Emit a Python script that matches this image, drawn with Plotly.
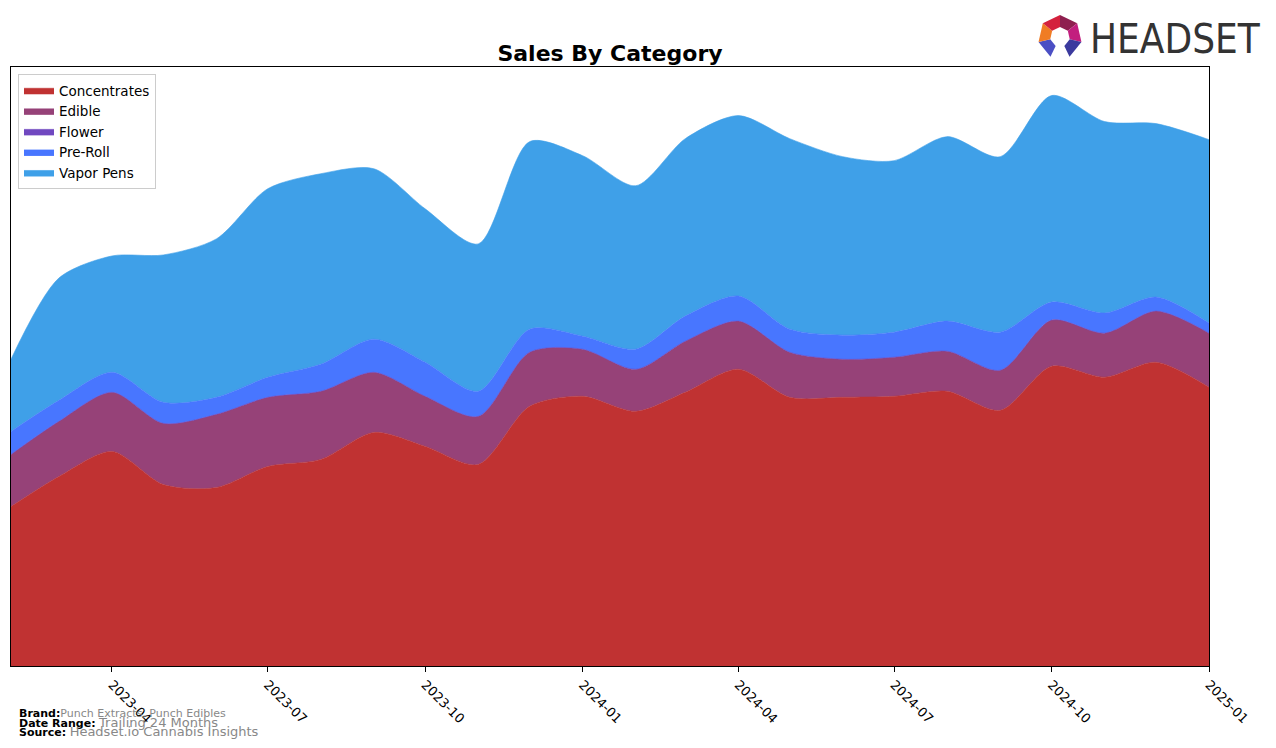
import math
import plotly.graph_objects as go

# monthly sales by category (arbitrary units)
months = ['2023-02-01', '2023-03-01', '2023-04-01', '2023-05-01', '2023-06-01', '2023-07-01',
          '2023-08-01', '2023-09-01', '2023-10-01', '2023-11-01', '2023-12-01', '2024-01-01',
          '2024-02-01', '2024-03-01', '2024-04-01', '2024-05-01', '2024-06-01', '2024-07-01',
          '2024-08-01', '2024-09-01', '2024-10-01', '2024-11-01', '2024-12-01', '2025-01-01']

concentrates = [159, 189, 214, 181, 178, 199, 206, 233, 219, 201, 259, 269,
                254, 273, 296, 268, 268, 269, 274, 255, 299, 288, 303, 278]
edible = [52, 55, 59, 61, 73, 69, 68, 60, 50, 48, 54, 47,
          42, 51, 48, 45, 38, 39, 40, 40, 46, 44, 51, 54]
flower = [0] * 24
pre_roll = [23, 21, 20, 21, 17, 20, 27, 33, 34, 25, 23, 13,
            20, 25, 25, 23, 24, 25, 30, 38, 18, 20, 14, 10]
vapor_pens = [72, 122, 116, 147, 158, 188, 190, 170, 153, 147, 187, 180,
              163, 177, 180, 190, 178, 171, 184, 175, 206, 191, 173, 183]

tick_vals = ['2023-04-01', '2023-07-01', '2023-10-01', '2024-01-01',
             '2024-04-01', '2024-07-01', '2024-10-01', '2025-01-01']
tick_text = ['2023-04', '2023-07', '2023-10', '2024-01',
             '2024-04', '2024-07', '2024-10', '2025-01']

SERIES = [
    ('Concentrates', concentrates, '#C03232'),
    ('Edible', edible, '#964278'),
    ('Flower', flower, '#7048C0'),
    ('Pre-Roll', pre_roll, '#4876FF'),
    ('Vapor Pens', vapor_pens, '#3FA0E8'),
]

W, H = 1276, 748
L, R, T, B = 11, 1209, 67, 666


def px_x(x):
    return (x - L) / (R - L)


def px_y(y):
    return (B - y) / (B - T)


fig = go.Figure()
for name, vals, color in SERIES:
    fig.add_trace(go.Scatter(x=months, y=vals, name=name, mode='lines',
                             stackgroup='one', fillcolor=color,
                             line=dict(width=0.6, color=color, shape='spline', smoothing=0.8)))

totals = [sum(v) for v in zip(concentrates, edible, flower, pre_roll, vapor_pens)]

FOOT = dict(size=11, family='DejaVu Sans', color='black')
annotations = [
    dict(x=px_x(17), y=px_y(713), xref='paper', yref='paper', xanchor='left', yanchor='middle',
         showarrow=False, font=FOOT,
         text="<b>Brand:</b><span style='color:#888888;font-size:11px'>Punch Extracts, Punch Edibles</span>"),
    dict(x=px_x(17), y=px_y(722), xref='paper', yref='paper', xanchor='left', yanchor='middle',
         showarrow=False, font=FOOT,
         text="<b>Date Range:</b> <span style='color:#888888;font-size:13px'>Trailing 24 Months</span>"),
    dict(x=px_x(17), y=px_y(731), xref='paper', yref='paper', xanchor='left', yanchor='middle',
         showarrow=False, font=FOOT,
         text="<b>Source:</b> <span style='color:#888888;font-size:13px'>Headset.io Cannabis Insights</span>"),
    dict(x=px_x(1088), y=px_y(39), xref='paper', yref='paper', xanchor='left', yanchor='middle',
         showarrow=False, text='HEADSET',
         font=dict(size=40, family='Liberation Sans Narrow, DejaVu Sans Condensed', color='#333333')),
]

# logo icon: ring segments
cx, cy = 1060, 37
ro, ri = 22, 10
seg_colors = ['#8E1F4F', '#C21E7E', '#3B3A9E', None, '#4B4FC4', '#F07C24', '#D4213D']
shapes = []
n = 7
for i, col in enumerate(seg_colors):
    if col is None:
        continue
    a0 = -math.pi / 2 + i * 2 * math.pi / n
    a1 = a0 + 2 * math.pi / n
    pts = [(cx + ro * math.cos(a0), cy + ro * math.sin(a0)),
           (cx + ro * math.cos(a1), cy + ro * math.sin(a1)),
           (cx + ri * math.cos(a1), cy + ri * math.sin(a1)),
           (cx + ri * math.cos(a0), cy + ri * math.sin(a0))]
    path = 'M ' + ' L '.join(f'{px_x(x):.5f},{px_y(y):.5f}' for x, y in pts) + ' Z'
    shapes.append(dict(type='path', xref='paper', yref='paper', path=path,
                       fillcolor=col, line=dict(width=0)))

fig.update_layout(
    width=W, height=H,
    margin=dict(l=L, r=W - R, t=T, b=H - B),
    paper_bgcolor='white', plot_bgcolor='white',
    font=dict(family='DejaVu Sans', size=13, color='black'),
    title=dict(text='<b>Sales By Category</b>', x=0.5, xref='paper', xanchor='center',
               y=1 - 53 / H, yref='container', yanchor='middle',
               font=dict(size=22, family='DejaVu Sans', color='black')),
    xaxis=dict(range=[months[0], months[-1]], tickvals=tick_vals, ticktext=tick_text,
               tickangle=45, ticks='outside', ticklen=5, tickcolor='black',
               showgrid=False, zeroline=False, showline=True, linecolor='black',
               linewidth=1, mirror=True, tickfont=dict(size=13)),
    yaxis=dict(range=[0, max(totals) * 1.05], showticklabels=False, ticks='',
               showgrid=False, zeroline=False, showline=True, linecolor='black',
               linewidth=1, mirror=True),
    legend=dict(x=px_x(18), y=px_y(74), xanchor='left', yanchor='top',
                bgcolor='white', bordercolor='#CCCCCC', borderwidth=1,
                font=dict(size=13.5), tracegroupgap=0, traceorder='normal'),
    showlegend=True,
    annotations=annotations,
    shapes=shapes,
)

fig.write_html('out.html', config={'displayModeBar': False},
               post_script="document.body.style.margin='0';")
